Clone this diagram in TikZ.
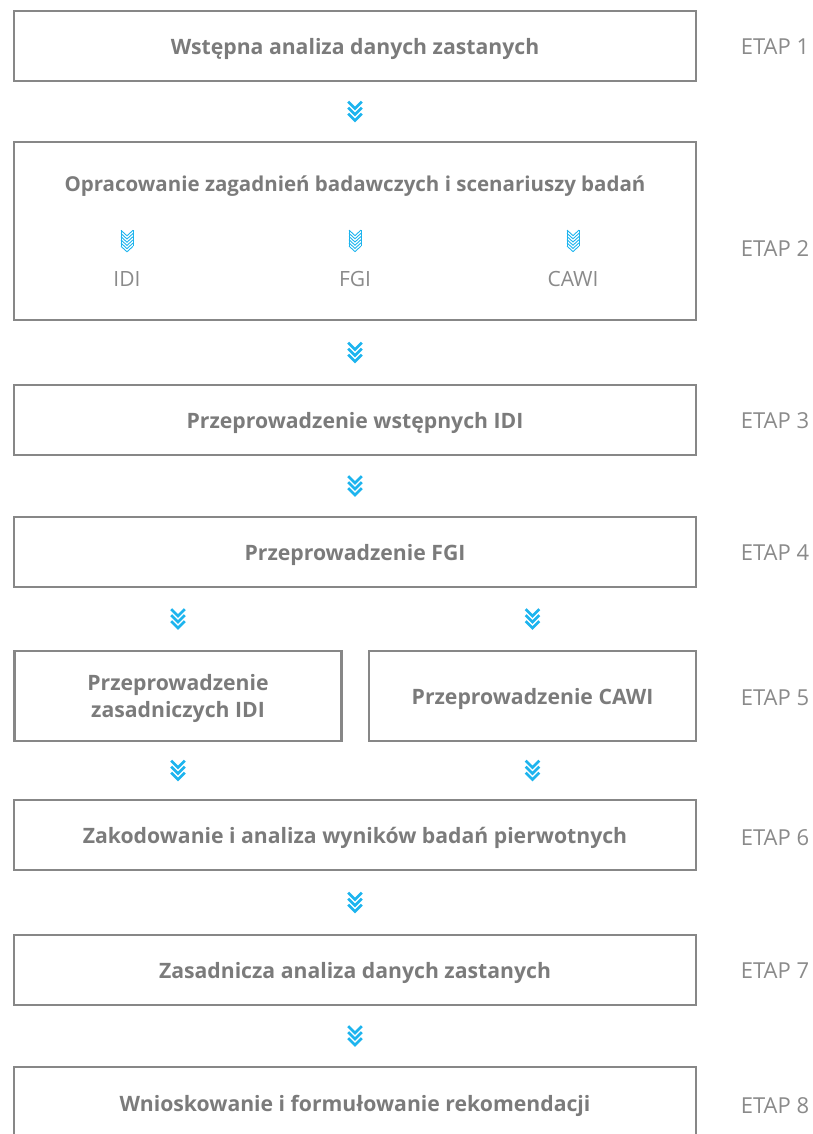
\documentclass[tikz,border=0pt]{standalone}
\usepackage{fontspec}
\setmainfont{Open Sans}
\usetikzlibrary{calc}
\definecolor{boxgray}{HTML}{878787}
\definecolor{txtgray}{HTML}{7B7B7B}
\definecolor{etapgray}{HTML}{8A8A8A}
\definecolor{chevcyan}{HTML}{1DB4EE}
\newcommand{\lowertxt}[2][3pt]{\raisebox{-#1}[\height][\depth]{#2}}
\tikzset{
  x=1pt, y=-1pt,
  stagebox/.style={draw=boxgray, line width=2.4pt, minimum height=70pt, minimum width=682pt,
    text=txtgray, font=\bfseries\fontsize{21.2}{27}\selectfont, align=center, inner sep=0pt},
  halfbox/.style={stagebox, minimum width=327pt, minimum height=90pt},
  etaplabel/.style={text=etapgray, font=\fontsize{22}{26}\selectfont, inner sep=0pt},
  sublabel/.style={text=etapgray, font=\fontsize{21}{25}\selectfont, inner sep=0pt},
  titlelabel/.style={text=txtgray, font=\bfseries\fontsize{20.5}{26}\selectfont, inner sep=0pt},
  chev/.pic={
    \foreach \t in {-9.8,-3.8,2.2}
      \draw[chevcyan, line width=2.8pt, miter limit=10]
        (-6.8,\t) -- (0,\t+6.8) -- (6.8,\t);
  },
  chevstack/.pic={
    \foreach \t in {-11,-7.8,-4.6,-1.4,1.8,5}
      \draw[chevcyan, line width=0.9pt, miter limit=10]
        (-6,\t) -- (0,\t+5.5) -- (6,\t);
    \draw[chevcyan, line width=0.9pt] (-6,-11) -- (-6,5) (6,-11) -- (6,5);
  }
}
\begin{document}
\begin{tikzpicture}
\useasboundingbox (0,0) rectangle (813,1134);
\clip (0,0) rectangle (813,1134);
% boxes
\node[stagebox] (b1) at (355,46) {\lowertxt{Wstępna analiza danych zastanych}};
\node[stagebox, minimum height=178pt] (b2) at (355,231) {};
\node[titlelabel] (b2t) at (355,186) {Opracowanie zagadnień badawczych i scenariuszy badań};
\node[sublabel] (idi) at (127,279) {IDI};
\node[sublabel] (fgi) at (355,279) {FGI};
\node[sublabel] (cawi) at (573,279) {CAWI};
\node[stagebox] (b3) at (355,420) {\lowertxt{Przeprowadzenie wstępnych IDI}};
\node[stagebox] (b4) at (355,552) {\lowertxt{Przeprowadzenie FGI}};
\node[halfbox] (b5a) at (178,696) {\lowertxt{\begin{tabular}{@{}c@{}}Przeprowadzenie\\zasadniczych IDI\end{tabular}}};
\node[halfbox] (b5b) at (532.5,696) {\lowertxt{Przeprowadzenie CAWI}};
\node[stagebox] (b6) at (355,835) {\lowertxt{Zakodowanie i analiza wyników badań pierwotnych}};
\node[stagebox] (b7) at (355,970) {\lowertxt{Zasadnicza analiza danych zastanych}};
\node[stagebox] (b8) at (355,1102) {\lowertxt[4pt]{Wnioskowanie i formułowanie rekomendacji}};
% etap labels
\node[etaplabel] (e1) at (775,47) {ETAP 1};
\node[etaplabel] (e2) at (775,249) {ETAP 2};
\node[etaplabel] (e3) at (775,421) {ETAP 3};
\node[etaplabel] (e4) at (775,553) {ETAP 4};
\node[etaplabel] (e5) at (775,698) {ETAP 5};
\node[etaplabel] (e6) at (775,838) {ETAP 6};
\node[etaplabel] (e7) at (775,971) {ETAP 7};
\node[etaplabel] (e8) at (775,1106) {ETAP 8};
% chevron connectors
\pic at ($(b1.south)!0.5!(b2.north)$) {chev};
\pic at ($(b2.south)!0.5!(b3.north)$) {chev};
\pic at ($(b3.south)!0.5!(b4.north)$) {chev};
\pic at ($(b4.south -| b5a.north)!0.5!(b5a.north)$) {chev};
\pic at ($(b4.south -| b5b.north)!0.5!(b5b.north)$) {chev};
\pic at ($(b5a.south)!0.5!(b6.north -| b5a.south)$) {chev};
\pic at ($(b5b.south)!0.5!(b6.north -| b5b.south)$) {chev};
\pic at ($(b6.south)!0.5!(b7.north)$) {chev};
\pic at ($(b7.south)!0.5!(b8.north)$) {chev};
% inner stacked chevrons
\pic at ($(idi.north)+(0,-30)$) {chevstack};
\pic at ($(fgi.north)+(0,-30)$) {chevstack};
\pic at ($(cawi.north)+(0,-30)$) {chevstack};
\end{tikzpicture}
\end{document}
